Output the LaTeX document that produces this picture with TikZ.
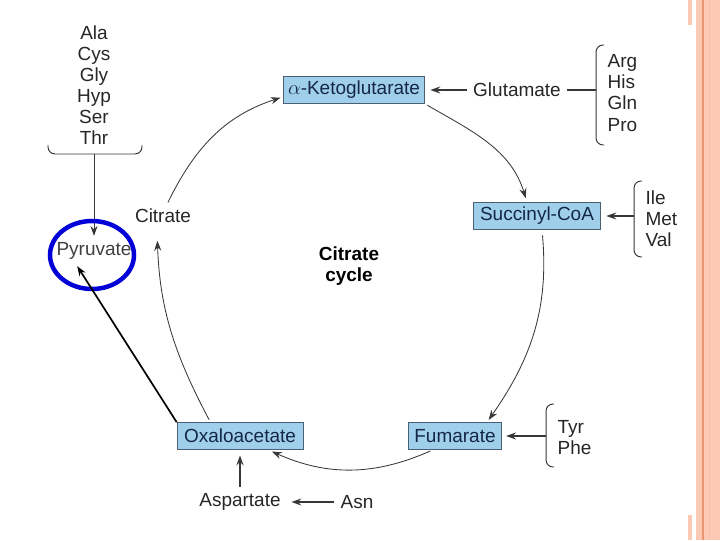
\documentclass[tikz,border=0pt]{standalone}
\usepackage{fontspec}
\setmainfont{Liberation Sans}
\usetikzlibrary{arrows.meta,positioning}
\definecolor{boxblue}{RGB}{160,207,236}
\definecolor{boxline}{RGB}{75,95,115}
\definecolor{boxtext}{RGB}{20,40,70}
\definecolor{arrowgrey}{RGB}{55,55,55}
\definecolor{salmon}{RGB}{251,201,180}
\definecolor{salmonline}{RGB}{234,150,112}
\definecolor{ringblue}{RGB}{0,0,215}

\begin{document}
\begin{tikzpicture}[>=Stealth, x=0.025cm, y=0.025cm, font=\fontsize{13.5}{15}\selectfont]
    \tikzstyle{metab}=[rectangle, draw=boxline, fill=boxblue, text=boxtext, minimum height=0.675cm, inner sep=2pt]
    \tikzstyle{amino}=[text=black!85, inner sep=4.5pt]
    \tikzstyle{cycarrow}=[-{Stealth[length=7pt,width=5pt]}, arrowgrey, line width=0.6pt]
    \tikzstyle{feed}=[-{Stealth[length=7pt,width=5pt]}, arrowgrey, line width=0.8pt]
    \tikzstyle{bracket}=[arrowgrey, line width=0.7pt, rounded corners=5pt]
    \useasboundingbox (0,0) rectangle (720,540);
    % slide border
    \fill[salmon] (696,0) rectangle (720,540);
    \draw[salmonline, line width=0.8pt] (703,0) -- (703,540);
    \draw[salmonline!60, line width=0.5pt] (709,0) -- (709,540);
    \fill[salmon] (688,515) rectangle (692,540);
    \fill[salmon] (688,0) rectangle (692,25);

    % cycle intermediates
    \node[metab, minimum width=3.525cm] (akg) at (354,450) {$\alpha$-Ketoglutarate};
    \node[metab, minimum width=3.175cm] (succ) at (537,324) {Succinyl-CoA};
    \node[metab, minimum width=2.33cm] (fum) at (455,104) {Fumarate};
    \node[metab, minimum width=3.15cm] (oaa) at (240,104) {Oxaloacetate};
    \node[amino] (cit) at (163,324) {Citrate};
    \node[font=\fontsize{13.5}{15}\selectfont\bfseries, align=center] (cyc) at (349,274) {Citrate\\cycle};

    % amino acids
    \node[amino] (glu) at (517,450) {Glutamate};
    \node[amino, align=left, anchor=west] (arg) at (601,447) {Arg\\His\\Gln\\Pro};
    \node[amino, align=left, anchor=west] (ile) at (639,321) {Ile\\Met\\Val};
    \node[amino, align=left, anchor=west] (tyr) at (551,102) {Tyr\\Phe};
    \node[amino, align=center] (ala) at (94,455) {Ala\\Cys\\Gly\\Hyp\\Ser\\Thr};
    \node[amino] (asp) at (240,38) {Aspartate};
    \node[amino] (asn) at (357,38) {Asn};
    \node[amino, text=black!75] (pyr) at (94,289) {Pyruvate};

    % brackets
    \draw[bracket] (604,495) -- (596,495) -- (596,395) -- (604,395);
    \draw[bracket] (642,359) -- (634,359) -- (634,283) -- (642,283);
    \draw[bracket] (554,136) -- (546,136) -- (546,73) -- (554,73);
    \draw[bracket] (48,395) -- (48,386) -- (142,386) -- (142,395);
    \coordinate (argbr) at (596,450);
    \coordinate (ilebr) at (634,324);
    \coordinate (tyrbr) at (546,104);
    \coordinate (alabr) at (94,386);

    % cycle arcs
    \draw[cycarrow, shorten <=2pt, shorten >=8pt] (oaa.155) to[out=118, in=-88] ([xshift=-0.15cm]cit.south);
    \draw[cycarrow, shorten >=2pt] (cit.70) to[out=64, in=198] ([yshift=-0.17cm]akg.west);
    \draw[cycarrow, shorten <=2pt, shorten >=3pt] (akg.south east) to[out=-30, in=107] ([xshift=-0.25cm]succ.north);
    \draw[cycarrow, shorten <=4pt, shorten >=2pt] ([xshift=0.125cm]succ.south) to[out=-85, in=55] ([xshift=0.8cm]fum.north);
    \draw[cycarrow, shorten <=2pt, shorten >=3pt] ([xshift=-0.55cm]fum.south) to[out=204, in=-24] ([xshift=0.7cm]oaa.south);

    % feeder arrows
    \draw[feed, shorten >=4pt] (glu.west) -- (akg.east);
    \draw[arrowgrey, line width=0.8pt] (glu.east) -- (argbr);
    \draw[feed, shorten >=4pt] (ilebr) -- (succ.east);
    \draw[feed, shorten >=3pt] (tyrbr) -- (fum.east);
    \draw[feed, shorten >=3pt] (asn.west) -- (asp.east);
    \draw[feed, shorten >=4pt] (asp.north) -- (oaa.south);
    \draw[cycarrow] (alabr) -- (pyr.north);

    % highlight
    \draw[ringblue, line width=3.2pt] (92,285) ellipse [x radius=42, y radius=34];
    \draw[-{Stealth[length=7pt,width=5pt]}, black, line width=1.2pt] (oaa.north west) -- ([xshift=-0.42cm]pyr.south);
\end{tikzpicture}
\end{document}
